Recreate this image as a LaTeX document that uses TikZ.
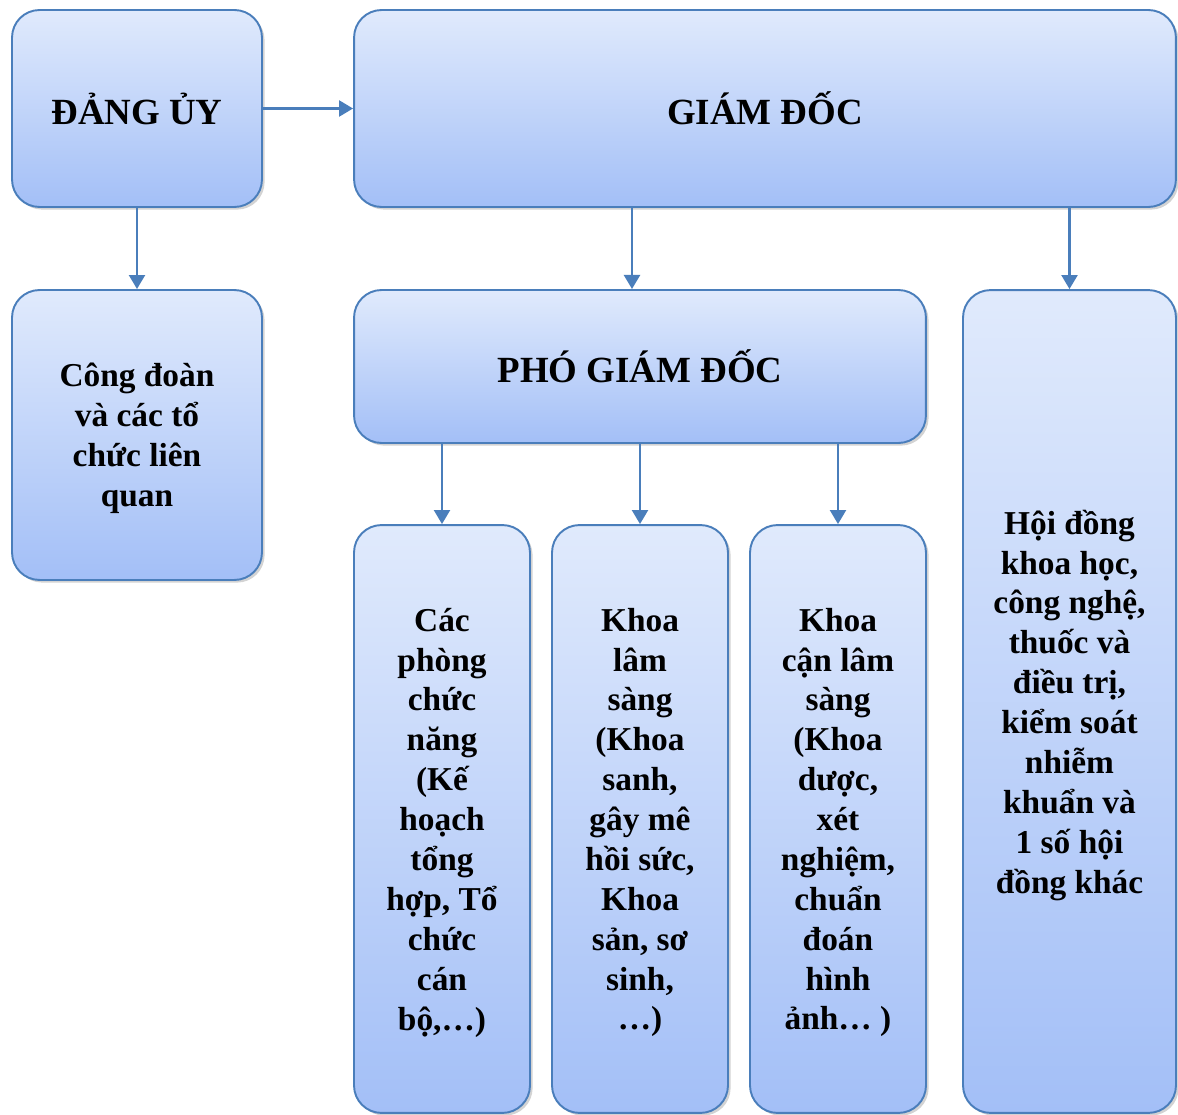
\documentclass[tikz,border=0pt]{standalone}
\usepackage{fontspec}
\setmainfont{Liberation Serif}
\usetikzlibrary{shadows,arrows.meta}
\definecolor{boxline}{HTML}{4A7EBB}
\definecolor{boxtop}{HTML}{E0EAFC}
\definecolor{boxbottom}{HTML}{A3BFF7}

\begin{document}
\begin{tikzpicture}[x=0.02cm, y=-0.02cm,
	units/.style={draw=boxline, line width=1.1pt, rounded corners=0.55cm, top color=boxtop, bottom color=boxbottom,
		drop shadow={shadow xshift=1.5pt, shadow yshift=-1.5pt, opacity=0.35}, inner sep=0pt, align=center,
		font=\bfseries\fontsize{19}{22.7}\selectfont, text depth=-1.5pt},
	heads/.style={draw=boxline, line width=1.1pt, rounded corners=0.55cm, top color=boxtop, bottom color=boxbottom,
		drop shadow={shadow xshift=1.5pt, shadow yshift=-1.5pt, opacity=0.35}, inner sep=0pt,
		font=\bfseries\fontsize{21}{25}\selectfont},
	links/.style={draw=boxline, line width=1.6pt, -{Triangle[width=9pt,length=8pt]}}]
	\useasboundingbox (0,0) rectangle (1178,1115);
	\node [heads, minimum width=5cm, minimum height=3.94cm] (0) at (137,108.5){ĐẢNG ỦY};
	\node [heads, minimum width=16.44cm, minimum height=3.94cm] (1) at (765,108.5){GIÁM ĐỐC};
	\node [units, minimum width=5cm, minimum height=5.8cm] (2) at (137,435){Công đoàn\\và các tổ\\chức liên\\quan};
	\node [heads, minimum width=11.44cm, minimum height=3.06cm] (3) at (640,366.5){PHÓ GIÁM ĐỐC};
	\node [units, minimum width=4.26cm, minimum height=16.46cm] (4) at (1069.5,701.5){Hội đồng\\khoa học,\\công nghệ,\\thuốc và\\điều trị,\\kiểm soát\\nhiễm\\khuẩn và\\1 số hội\\đồng khác};
	\node [units, minimum width=3.52cm, minimum height=11.76cm] (5) at (442,819){Các\\phòng\\chức\\năng\\(Kế\\hoạch\\tổng\\hợp, Tổ\\chức\\cán\\bộ,…)};
	\node [units, minimum width=3.52cm, minimum height=11.76cm] (6) at (640,819){Khoa\\lâm\\sàng\\(Khoa\\sanh,\\gây mê\\hồi sức,\\Khoa\\sản, sơ\\sinh,\\…)};
	\node [units, minimum width=3.52cm, minimum height=11.76cm] (7) at (838,819){Khoa\\cận lâm\\sàng\\(Khoa\\dược,\\xét\\nghiệm,\\chuẩn\\đoán\\hình\\ảnh… )};
\draw [links] (0.east)--(1.west);
\draw [links] (1.south -| 632,0)--(3.north -| 632,0);
\foreach \from/\to in {0/2, 1/4, 3/5, 3/6, 3/7}
\draw [links] (\from.south -| \to.north)--(\to.north);
\end{tikzpicture}
\end{document}
